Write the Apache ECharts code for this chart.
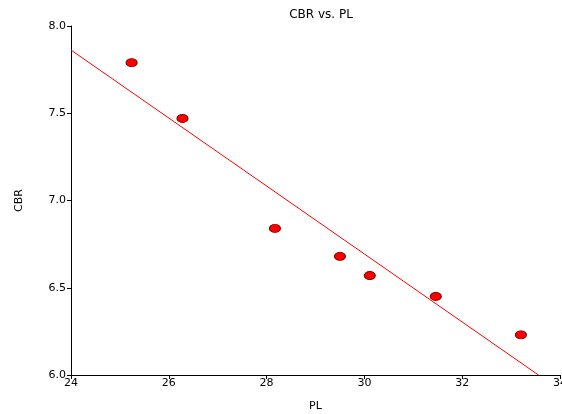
<!DOCTYPE html>
<html>
<head>
<meta charset="utf-8">
<script src="https://cdn.jsdelivr.net/npm/echarts@6/dist/echarts.min.js"></script>
<style>
  html, body { margin: 0; padding: 0; background: #fff; }
  #chart { width: 562px; height: 414px; }
</style>
</head>
<body>
<div id="chart"></div>
<script>
// PL (x) and CBR (y) values
const plValues = [25.24, 26.28, 28.17, 29.50, 30.11, 31.46, 33.20];
const cbrValues = [7.79, 7.47, 6.84, 6.68, 6.57, 6.45, 6.23];
const xRange = [24, 34];
const yRange = [6.0, 8.0];

// least squares fit line
const n = plValues.length;
const mx = plValues.reduce((a, b) => a + b, 0) / n;
const my = cbrValues.reduce((a, b) => a + b, 0) / n;
let sxy = 0, sxx = 0;
for (let i = 0; i < n; i++) {
    sxy += (plValues[i] - mx) * (cbrValues[i] - my);
    sxx += (plValues[i] - mx) * (plValues[i] - mx);
}
const slope = sxy / sxx;
const icept = my - slope * mx;
const xEnd = Math.min(xRange[1], (yRange[0] - icept) / slope);
const fitLine = [
    [xRange[0], icept + slope * xRange[0]],
    [xEnd, icept + slope * xEnd]
];

const font = 'DejaVu Sans, Verdana, sans-serif';

const chart = echarts.init(document.getElementById('chart'), null, { renderer: 'canvas' });
chart.setOption({
    animation: false,
    backgroundColor: '#fff',
    title: {
        text: 'CBR vs. PL',
        left: 316,
        textAlign: 'center',
        top: 4,
        textStyle: { fontFamily: font, fontSize: 12, fontWeight: 'normal', color: '#000' }
    },
    grid: { left: 71, right: 2, top: 26, bottom: 39, containLabel: false, outerBoundsMode: 'none' },
    xAxis: {
        type: 'value',
        min: xRange[0], max: xRange[1], interval: 2,
        name: 'PL',
        nameLocation: 'middle',
        nameGap: 26,
        nameTextStyle: { fontFamily: font, fontSize: 11, color: '#000' },
        axisLine: { lineStyle: { color: '#000', width: 1 } },
        axisTick: { show: true, length: 4, lineStyle: { color: '#000' } },
        axisLabel: { fontFamily: font, fontSize: 11, color: '#000', margin: 3, showMaxLabel: true },
        splitLine: { show: false }
    },
    yAxis: {
        type: 'value',
        min: yRange[0], max: yRange[1], interval: 0.5,
        name: 'CBR',
        nameLocation: 'middle',
        nameGap: 46,
        nameRotate: 90,
        nameTextStyle: { fontFamily: font, fontSize: 11, color: '#000' },
        axisLine: { show: true, lineStyle: { color: '#000', width: 1 } },
        axisTick: { show: true, length: 4, lineStyle: { color: '#000' } },
        axisLabel: {
            fontFamily: font, fontSize: 11, color: '#000', margin: 5,
            formatter: v => v.toFixed(1)
        },
        splitLine: { show: false }
    },
    series: [
        {
            type: 'line',
            data: fitLine,
            symbol: 'none',
            lineStyle: { color: '#ff0000', width: 1 },
            silent: true,
            z: 1
        },
        {
            type: 'scatter',
            data: plValues.map((x, i) => [x, cbrValues[i]]),
            symbol: 'circle',
            symbolSize: [11, 8],
            itemStyle: { color: '#ff0000', borderColor: '#8b0000', borderWidth: 1, opacity: 1 },
            z: 2
        }
    ]
});
</script>
</body>
</html>
